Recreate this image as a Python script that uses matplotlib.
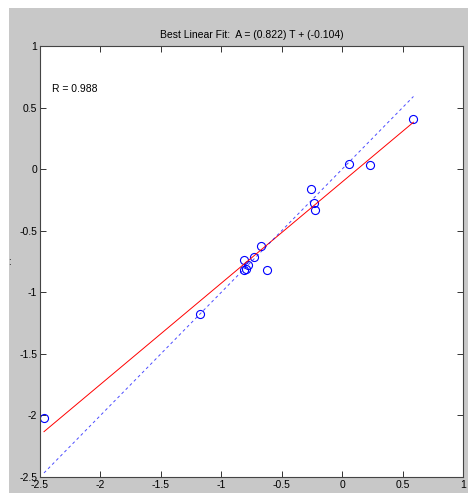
import matplotlib.pyplot as plt
import numpy as np
from matplotlib.patches import Rectangle

plt.rcParams['font.family'] = ['Liberation Sans', 'DejaVu Sans']

# targets (T) and network outputs (A)
targets = [-2.467, -1.18, -0.812, -0.812, -0.798, -0.781, -0.731, -0.671,
           -0.618, -0.26, -0.236, -0.222, 0.06, 0.233, 0.59]
outputs = [-2.02, -1.178, -0.735, -0.818, -0.81, -0.778, -0.715, -0.621,
           -0.821, -0.163, -0.277, -0.331, 0.045, 0.035, 0.41]
slope = 0.822
offset = -0.104
r_value = 0.988

fig = plt.figure(figsize=(4.68, 4.93), dpi=100, facecolor='white')
fig.patches.append(Rectangle((9 / 468, 0), 1, 1 - 8 / 493, transform=fig.transFigure,
                             facecolor='#c8c8c8', edgecolor='none', zorder=-10))
ax = fig.add_axes([40 / 468, 16 / 493, 423 / 468, 431 / 493])
ax.set_facecolor('white')

t = np.array(targets)
a = np.array(outputs)
tline = np.array([t.min(), t.max()])
ax.plot(t, a, 'o', mfc='none', mec='blue', ms=5.8, mew=0.8)
ax.plot(tline, slope * tline + offset, color='red', lw=0.7)
ax.plot(tline, tline, color='blue', ls=(0, (3, 3)), lw=0.7, alpha=0.7)

ax.set_xlim(-2.5, 1)
ax.set_ylim(-2.5, 1)
ax.set_xticks(np.arange(-2.5, 1.01, 0.5))
ax.set_yticks(np.arange(-2.5, 1.01, 0.5))
ax.set_xticklabels(['-2.5', '-2', '-1.5', '-1', '-0.5', '0', '0.5', '1'])
ax.set_yticklabels(['-2.5', '-2', '-1.5', '-1', '-0.5', '0', '0.5', '1'])
ax.tick_params(direction='in', top=True, right=True, labelsize=7.5, length=4,
               width=0.7, color='#333333', pad=2)
for s in ax.spines.values():
    s.set_color('#444444')
    s.set_linewidth(0.8)

ax.set_title(f'Best Linear Fit:  A = ({slope}) T + ({offset})', fontsize=7.5, pad=6)
ax.text(-2.4, 0.65, f'R = {r_value}', fontsize=7.5, va='center')
fig.text(9 / 468, 1 - 262 / 493, ':', fontsize=7, ha='center', va='center')

fig.savefig('out.png', dpi=100, facecolor=fig.get_facecolor())
